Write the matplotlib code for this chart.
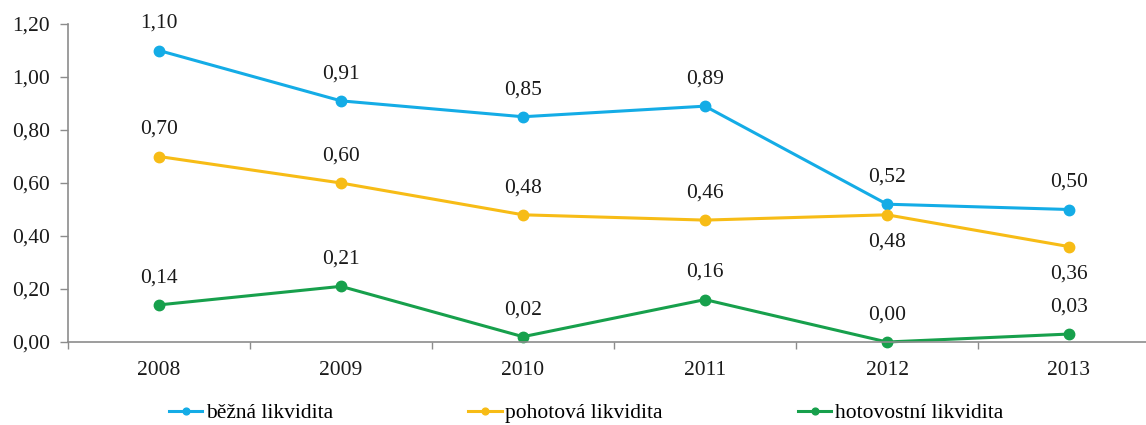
import matplotlib
matplotlib.use("Agg")
import matplotlib.pyplot as plt
from matplotlib.ticker import FuncFormatter, FixedLocator, NullFormatter
import numpy as np

years = ["2008", "2009", "2010", "2011", "2012", "2013"]
bezna = [1.10, 0.91, 0.85, 0.89, 0.52, 0.50]
pohotova = [0.70, 0.60, 0.48, 0.46, 0.48, 0.36]
hotovostni = [0.14, 0.21, 0.02, 0.16, 0.00, 0.03]

series_names = ["běžná likvidita", "pohotová likvidita", "hotovostní likvidita"]
colors = ["#14ACE6", "#F7BC16", "#17A04C"]
# label placement per point: +1 above the marker, -1 below
label_side = [
    [1, 1, 1, 1, 1, 1],
    [1, 1, 1, 1, -1, -1],
    [1, 1, 1, 1, 1, 1],
]

plt.rcParams["font.family"] = ["Liberation Serif", "DejaVu Serif"]
fs = 15.5

def fmt(v):
    return f"{v:.2f}".replace(".", ",")

fig = plt.figure(figsize=(11.46, 4.25), dpi=100)
W, H = 1146, 425
ax = fig.add_axes([68 / W, (H - 342) / H, 1092 / W, 318 / H])

x = np.arange(len(years))
for vals, name, col, sides in zip([bezna, pohotova, hotovostni], series_names, colors, label_side):
    ax.plot(x, vals, color=col, lw=2.2, marker="o", ms=7.5, label=name, clip_on=False)
    for xi, v, s in zip(x, vals, sides):
        ax.annotate(fmt(v), (xi, v), xytext=(0, 19.5 * s), textcoords="offset points",
                    ha="center", va="center", fontsize=fs, color="#1a1a1a")

ax.set_xlim(-0.5, len(years) - 0.5)
ax.set_ylim(0, 1.2)
ax.set_yticks(np.arange(0, 1.21, 0.2))
ax.yaxis.set_major_formatter(FuncFormatter(lambda v, p: fmt(v)))

ax.xaxis.set_major_locator(FixedLocator(np.arange(-0.5, len(years), 1.0)))
ax.xaxis.set_major_formatter(NullFormatter())
ax.xaxis.set_minor_locator(FixedLocator(x))
ax.xaxis.set_minor_formatter(FuncFormatter(lambda v, p: years[int(round(v))]))
ax.tick_params(axis="x", which="minor", length=0, pad=14, labelsize=fs, labelcolor="#1a1a1a")
ax.tick_params(axis="x", which="major", length=5, width=1, color="#8c8c8c", direction="out")
ax.tick_params(axis="y", length=6, width=1, color="#8c8c8c", pad=7, labelsize=fs, labelcolor="#1a1a1a")

for sp in ["top", "right"]:
    ax.spines[sp].set_visible(False)
for sp in ["left", "bottom"]:
    ax.spines[sp].set_color("#8c8c8c")
    ax.spines[sp].set_linewidth(1.2)

fig.legend(loc="center", bbox_to_anchor=(586 / W, (H - 413) / H), ncol=3, frameon=False,
           fontsize=15.5, handlelength=1.55, handletextpad=0.15, columnspacing=6.3,
           markerscale=0.65)

fig.savefig("out.png", dpi=100, facecolor="white")
